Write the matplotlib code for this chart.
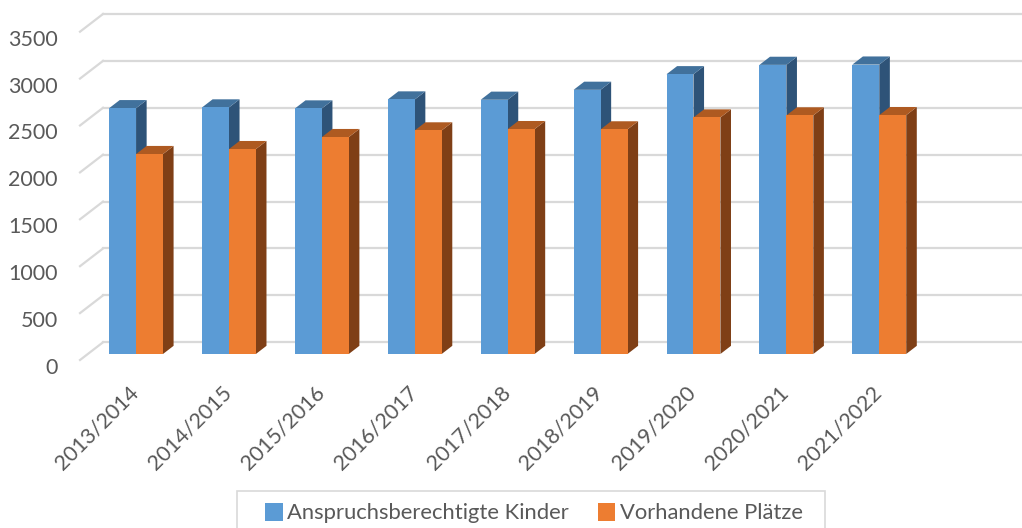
import numpy as np
import matplotlib
matplotlib.use('Agg')
import matplotlib.pyplot as plt
from matplotlib.patches import Patch, Rectangle
from matplotlib.transforms import ScaledTranslation

plt.rcParams['font.family'] = ['Lato', 'DejaVu Sans']

# data
years = ['2013/2014', '2014/2015', '2015/2016', '2016/2017', '2017/2018',
         '2018/2019', '2019/2020', '2020/2021', '2021/2022']
kinder = [2620, 2628, 2617, 2713, 2710, 2816, 2982, 3082, 3085]
plaetze = [2131, 2184, 2312, 2383, 2397, 2394, 2521, 2543, 2546]
series_names = ['Anspruchsberechtigte Kinder', 'Vorhandene Plätze']

# colours (front, side, top)
blue = ('#5B9BD5', '#2E5378', '#41719C')
orange = ('#ED7D31', '#7F3F16', '#AE5A21')
grid_col = '#D9D9D9'
txt_col = '#595959'

fig = plt.figure(figsize=(10.22, 5.28), dpi=100)
ax = fig.add_axes([0.0783, 0.3182, 0.8992, 0.6218])
ax.set_xlim(-0.519, 9.373)
ax.set_ylim(0, 3500)
for s in ax.spines.values():
    s.set_visible(False)

# depth of the fake 3d box, in data units
DX = 0.2476
DY = 188.7
f_d, b_d = 0.34, 0.8   # bar front / back depth fraction
bw = 0.29

# back wall + left side gridlines
x0, x1 = ax.get_xlim()
for v in range(0, 3501, 500):
    ax.plot([x0 + DX, x1 + DX], [v + DY, v + DY], color=grid_col, lw=1.6, clip_on=False, zorder=0)
    ax.plot([x0, x0 + DX], [v, v + DY], color=grid_col, lw=1.6, clip_on=False, zorder=0)

def bar3d(x, h, cols, order):
    xl, xr = x, x + bw
    fx, fy = f_d * DX, f_d * DY
    bx, by = b_d * DX, b_d * DY
    side = [(xr + fx, fy), (xr + bx, by), (xr + bx, h + by), (xr + fx, h + fy)]
    top = [(xl + fx, h + fy), (xr + fx, h + fy), (xr + bx, h + by), (xl + bx, h + by)]
    ax.fill(*zip(*side), color=cols[1], lw=0, zorder=order, clip_on=False)
    ax.fill(*zip(*top), color=cols[2], lw=0, zorder=order, clip_on=False)
    ax.bar(xl + fx, h, width=bw, bottom=fy, align='edge', color=cols[0], lw=0,
           zorder=order + 0.5, clip_on=False)

for i in range(len(years)):
    bar3d(i - bw, kinder[i], blue, 2 + i * 2)
    bar3d(i, plaetze[i], orange, 3 + i * 2)

ax.set_yticks(range(0, 3501, 500))
ax.set_yticklabels([str(v) for v in range(0, 3501, 500)], fontsize=15.5, color=txt_col)
ax.tick_params(axis='y', length=0, pad=16)
down = ScaledTranslation(0, -0.06, fig.dpi_scale_trans)
for lbl in ax.get_yticklabels():
    lbl.set_transform(lbl.get_transform() + down)

ax.set_xticks(range(len(years)))
ax.set_xticklabels(years, rotation=45, ha='right', rotation_mode='anchor',
                   fontsize=15.5, color=txt_col)
ax.tick_params(axis='x', length=0, pad=16)

# legend box (frame drawn separately so it can be wider than tall)
fig.patches.append(Rectangle((237 / 1022, -0.01), 588 / 1022, 0.01 + 37 / 528,
                             transform=fig.transFigure, fill=False,
                             edgecolor=grid_col, lw=1.2))
handles = [Patch(facecolor=blue[0]), Patch(facecolor=orange[0])]
leg = fig.legend(handles, series_names, loc='center', bbox_to_anchor=(534 / 1022, 1 - 513 / 528),
                 ncol=2, frameon=False, fontsize=15.8,
                 handlelength=0.8, handleheight=0.9, handletextpad=0.2, columnspacing=1.3,
                 borderpad=0.3)
for t in leg.get_texts():
    t.set_color(txt_col)

fig.savefig('out.png', dpi=100)
